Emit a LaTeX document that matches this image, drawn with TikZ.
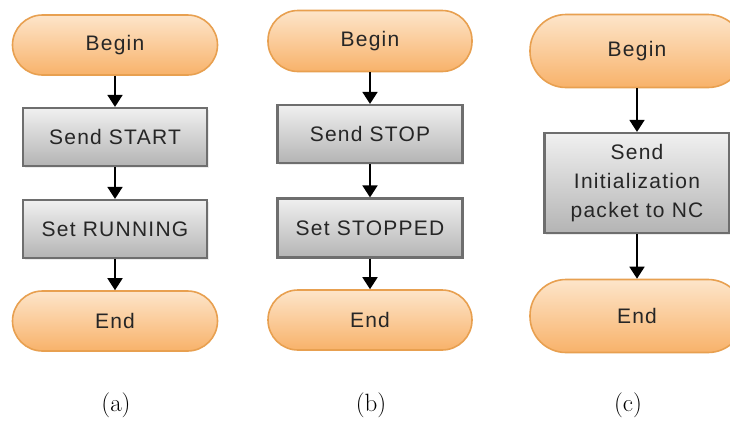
\documentclass[tikz,border=0pt]{standalone}
\usepackage{fontspec}
\newfontfamily\boxfont[LetterSpace=6]{Liberation Sans}
\usetikzlibrary{arrows.meta,shadows}
\definecolor{orangetop}{HTML}{FDE5CA}
\definecolor{orangebot}{HTML}{F8B26A}
\definecolor{orangeline}{HTML}{E8A050}
\definecolor{graytop}{HTML}{F0F0F0}
\definecolor{graybot}{HTML}{B4B4B4}
\definecolor{grayline}{HTML}{6E6E6E}
\tikzset{
  x=1pt, y=-1pt,
  terminal/.style={draw=orangeline, line width=1.6pt, top color=orangetop, bottom color=orangebot,
    rounded corners=30pt, font=\boxfont\fontsize{21}{24}\selectfont, text=black!85,
    inner sep=0pt},
  process/.style={draw=grayline, line width=2.2pt, top color=graytop, bottom color=graybot,
    font=\boxfont\fontsize{21}{29}\selectfont, text=black!85, align=center, inner sep=0pt,
    drop shadow={shadow xshift=1.5pt, shadow yshift=-1.5pt, opacity=0.15}},
  flow/.style={draw=black, line width=1.8pt, -{Triangle[length=12pt,width=15pt]}},
  caption/.style={font=\fontsize{25}{28}\selectfont}
}
\begin{document}
\begin{tikzpicture}
\useasboundingbox (0,0) rectangle (730,421);
\clip (0,0) rectangle (730,421);
\fill[white] (0,0) rectangle (730,421);

% (a) start sequence
\node[terminal, minimum width=205pt, minimum height=60pt] (a1) at (115,45) {Begin};
\node[process, minimum width=184pt, minimum height=58pt] (a2) at (115,137) {Send START};
\node[process, minimum width=184pt, minimum height=58pt] (a3) at (115,229) {Set RUNNING};
\node[terminal, minimum width=205pt, minimum height=60pt] (a4) at (115,321) {End};
\draw[flow] (a1) -- (a2);
\draw[flow] (a2) -- (a3);
\draw[flow] (a3) -- (a4);
\node[caption] (la) at (116,405) {(a)};

% (b) stop sequence
\node[terminal, minimum width=204pt, minimum height=61pt] (b1) at (370,41) {Begin};
\node[process, minimum width=185pt, minimum height=58pt] (b2) at (370,134) {Send STOP};
\node[process, minimum width=185pt, minimum height=59pt] (b3) at (370,228) {Set STOPPED};
\node[terminal, minimum width=204pt, minimum height=60pt] (b4) at (370,320) {End};
\draw[flow] (b1) -- (b2);
\draw[flow] (b2) -- (b3);
\draw[flow] (b3) -- (b4);
\node[caption] (lb) at (371,405) {(b)};

% (c) initialization
\node[terminal, minimum width=214pt, minimum height=73pt, rounded corners=36pt] (c1) at (637,51) {Begin};
\node[process, minimum width=185pt, minimum height=100pt] (c2) at (637,183) {Send\\Initialization\\packet to NC};
\node[terminal, minimum width=214pt, minimum height=73pt, rounded corners=36pt] (c3) at (637,316) {End};
\draw[flow] (c1) -- (c2);
\draw[flow] (c2) -- (c3);
\node[caption] (lc) at (628,405) {(c)};
\end{tikzpicture}
\end{document}
